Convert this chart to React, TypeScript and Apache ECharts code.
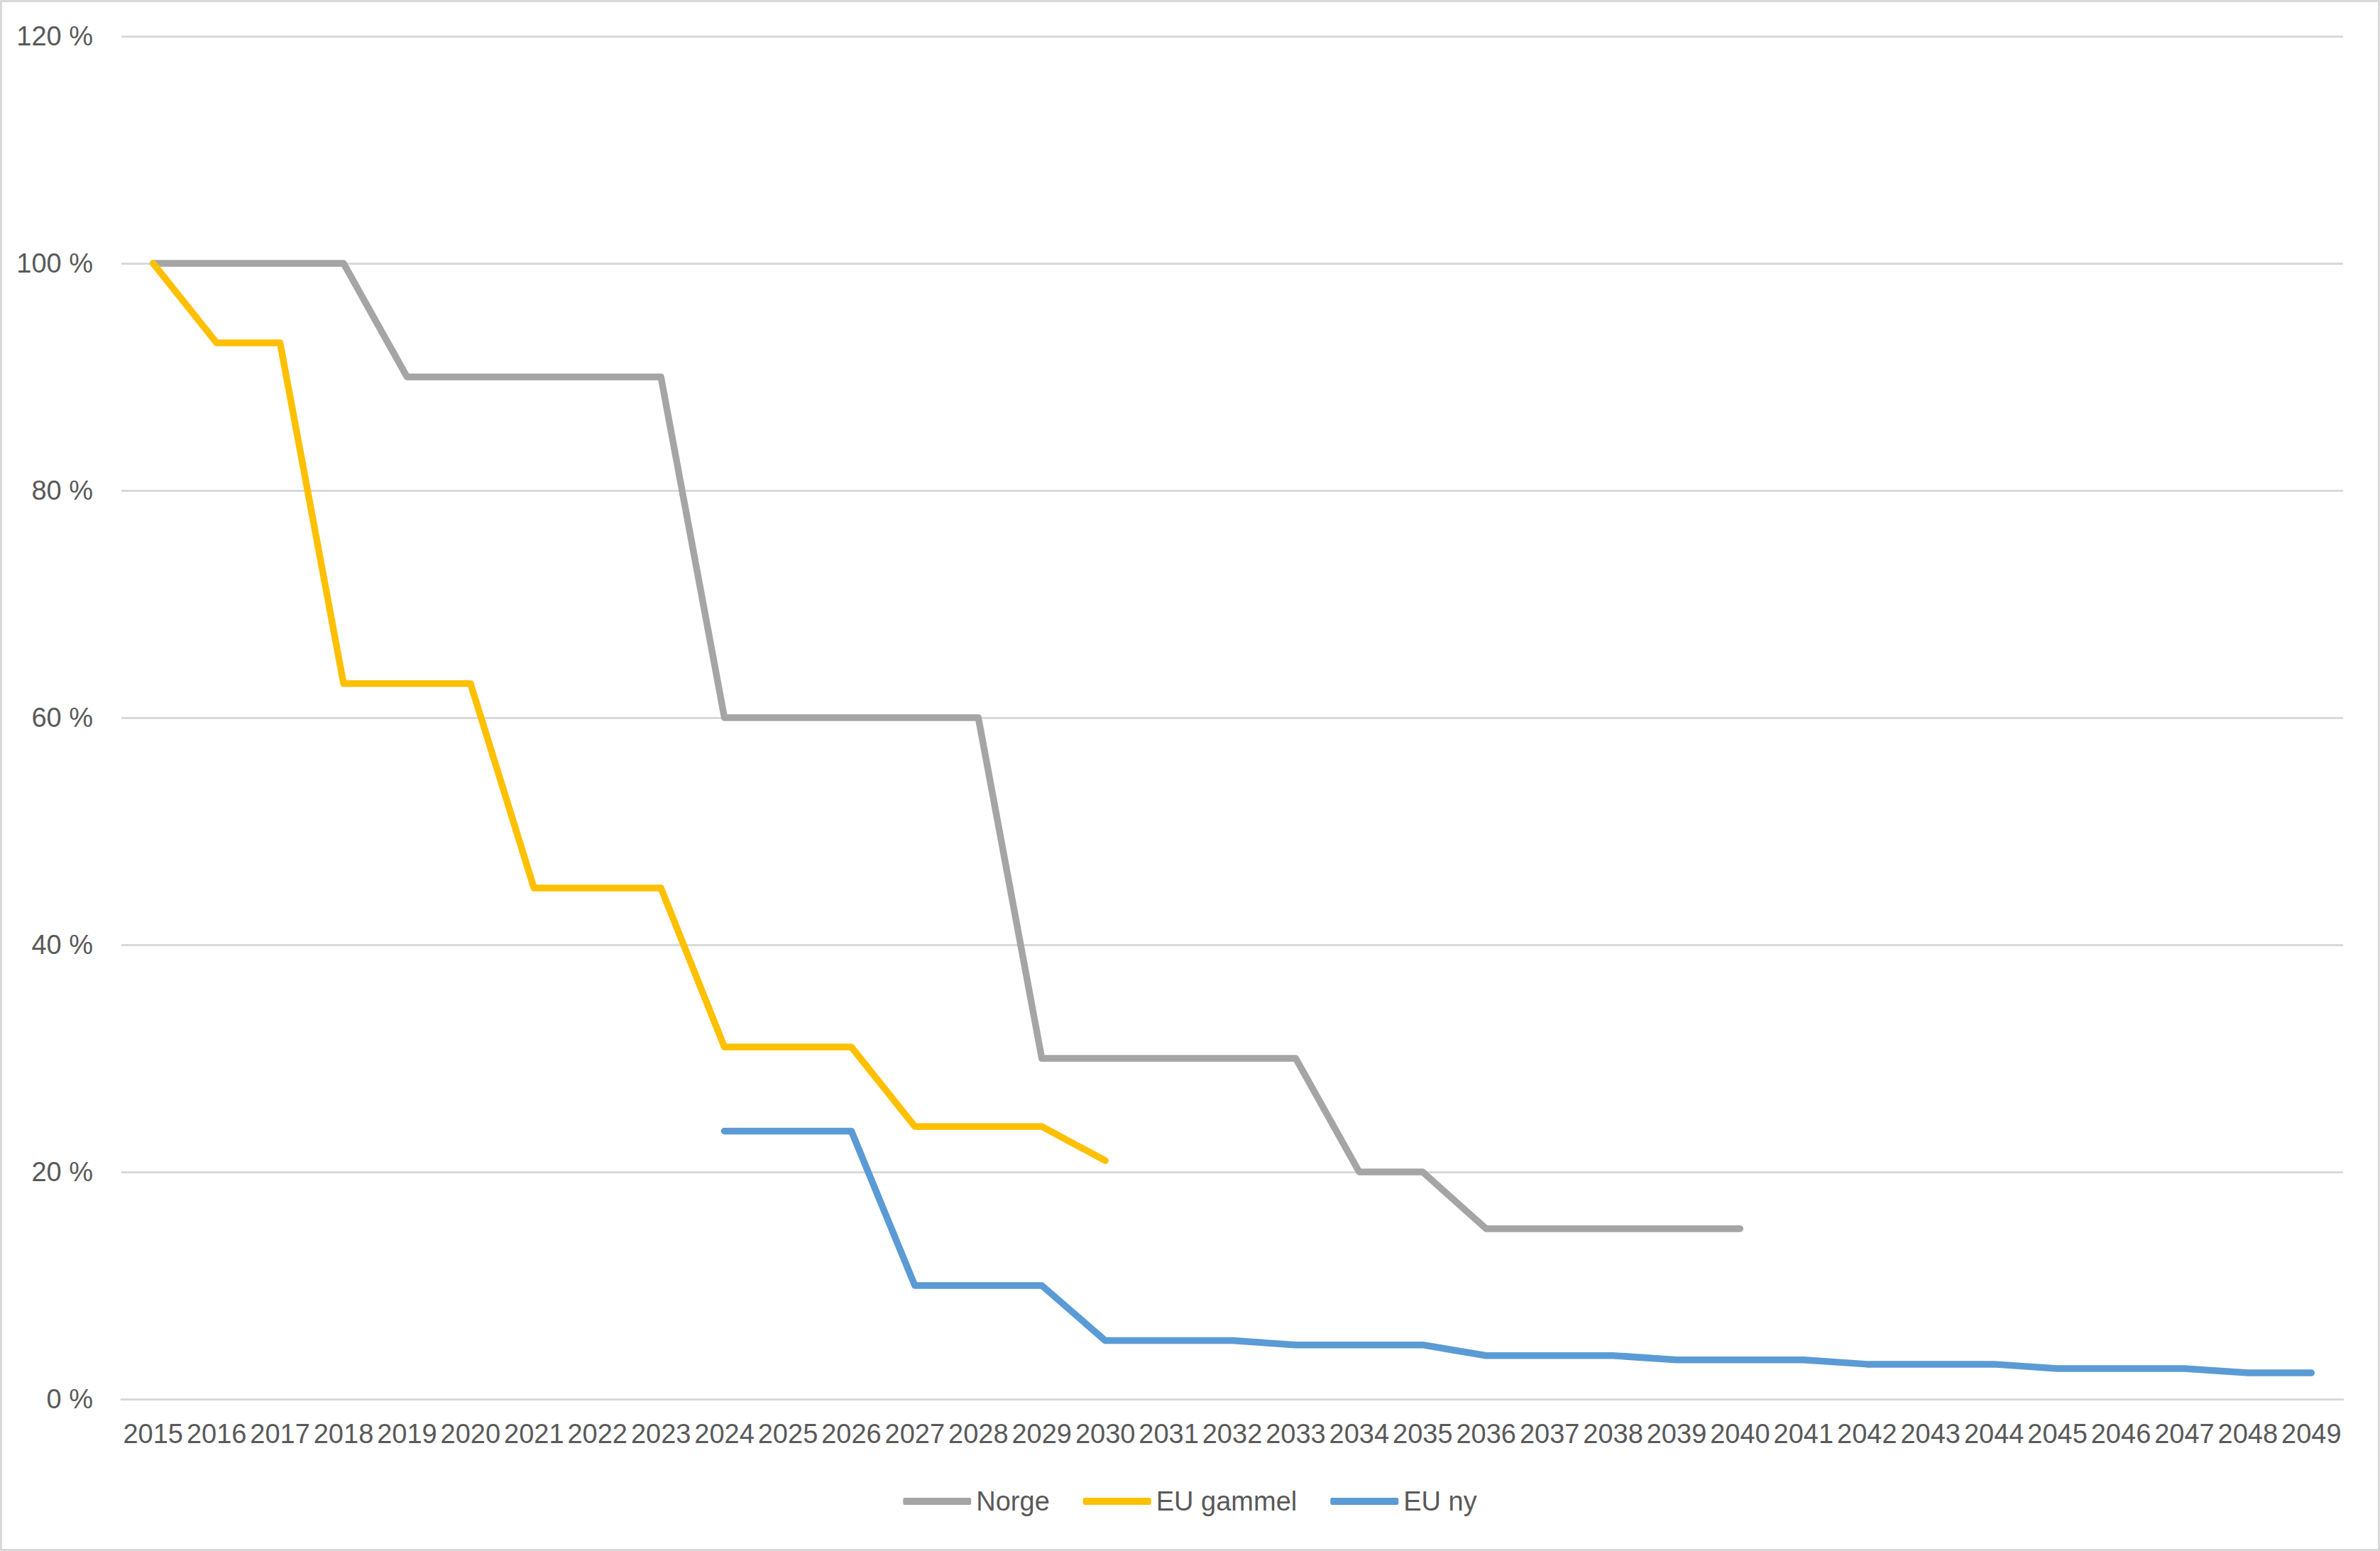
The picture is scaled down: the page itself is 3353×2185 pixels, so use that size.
import React, { useEffect, useRef } from "react";
import * as echarts from "echarts";

const years: string[] = [];
for (let y = 2015; y <= 2049; y++) years.push(String(y));

const norge: (number | null)[] = [
  100, 100, 100, 100, 90, 90, 90, 90, 90, 60, 60, 60, 60, 60, 30, 30, 30, 30, 30, 20, 20, 15, 15, 15, 15, 15,
  null, null, null, null, null, null, null, null, null,
];
const euGammel: (number | null)[] = [
  100, 93, 93, 63, 63, 63, 45, 45, 45, 31, 31, 31, 24, 24, 24, 21,
  null, null, null, null, null, null, null, null, null, null, null, null, null, null, null, null, null, null, null,
];
const euNy: (number | null)[] = [
  null, null, null, null, null, null, null, null, null,
  23.6, 23.6, 23.6, 10, 10, 10, 5.15, 5.15, 5.15, 4.77, 4.77, 4.77, 3.83, 3.83, 3.83, 3.45, 3.45, 3.45,
  3.07, 3.07, 3.07, 2.69, 2.69, 2.69, 2.31, 2.31,
];
const yTicks = [0, 20, 40, 60, 80, 100, 120];

const FONT = "'Liberation Sans Narrow', 'Liberation Sans', sans-serif";
const TEXT = "#595959";

export default function App() {
  const ref = useRef<HTMLDivElement>(null);
  useEffect(() => {
    document.body.style.margin = "0";
    const chart = echarts.init(ref.current!, undefined, { renderer: "svg" });
    const mk = (name: string, data: (number | null)[], color: string) => ({
      name,
      type: "line",
      data,
      symbol: "none",
      connectNulls: false,
      lineStyle: { color, width: 9.5, cap: "round", join: "round" },
      itemStyle: { color },
    });
    chart.setOption({
      animation: false,
      backgroundColor: "#ffffff",
      textStyle: { fontFamily: FONT, color: TEXT },
      grid: { left: 171, right: 52, top: 51, bottom: 214, containLabel: false },
      xAxis: {
        type: "category",
        data: years,
        boundaryGap: true,
        axisTick: { show: false },
        axisLine: { lineStyle: { color: "#d9d9d9", width: 3 } },
        axisLabel: { interval: 0, color: TEXT, fontSize: 38, fontFamily: FONT, margin: 30 },
      },
      yAxis: {
        type: "value",
        min: yTicks[0],
        max: yTicks[yTicks.length - 1],
        interval: 20,
        axisLine: { show: false },
        axisTick: { show: false },
        splitLine: { lineStyle: { color: "#d9d9d9", width: 3 } },
        axisLabel: { color: TEXT, fontSize: 38, fontFamily: FONT, margin: 40, formatter: (v: number) => v + " %" },
      },
      legend: {
        bottom: 46,
        left: "center",
        itemWidth: 96,
        itemHeight: 10,
        itemGap: 47,
        icon: "roundRect",
        textStyle: { color: TEXT, fontSize: 38, fontFamily: FONT, padding: [0, 0, 0, 2] },
        data: ["Norge", "EU gammel", "EU ny"],
      },
      graphic: [
        {
          type: "rect",
          shape: { x: 1.5, y: 1.5, width: 3350, height: 2182 },
          style: { fill: "none", stroke: "#d9d9d9", lineWidth: 3 },
          silent: true,
        },
      ],
      series: [
        mk("Norge", norge, "#A5A5A5"),
        mk("EU gammel", euGammel, "#FFC000"),
        mk("EU ny", euNy, "#5B9BD5"),
      ],
    });
    return () => chart.dispose();
  }, []);
  return <div ref={ref} style={{ position: "fixed", left: 0, top: 0, width: 3353, height: 2185 }} />;
}
